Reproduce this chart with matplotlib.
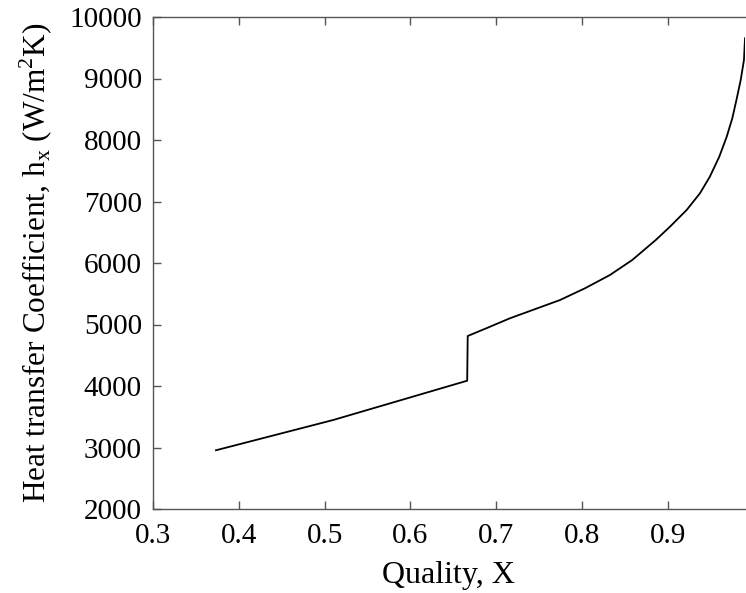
import matplotlib
matplotlib.use('Agg')
import matplotlib.pyplot as plt

plt.rcParams['font.family'] = ['Liberation Serif', 'DejaVu Serif']
plt.rcParams['mathtext.fontset'] = 'custom'
plt.rcParams['mathtext.rm'] = 'Liberation Serif'

# values
quality = [0.3734, 0.510, 0.6662, 0.6668, 0.687, 0.716, 0.7744, 0.8035,
           0.8326, 0.8586, 0.886, 0.9026, 0.922, 0.9375, 0.949, 0.960,
           0.9687, 0.9752, 0.980, 0.985, 0.9888, 0.990]
h_x = [2955, 3447, 4086, 4813, 4930, 5101, 5398, 5589,
       5805, 6049, 6374, 6591, 6862, 7133, 7403, 7728,
       8054, 8353, 8650, 8976, 9301, 9654]

x_ticks = [0.3, 0.4, 0.5, 0.6, 0.7, 0.8, 0.9]
y_ticks = [2000, 3000, 4000, 5000, 6000, 7000, 8000, 9000, 10000]

fig = plt.figure(figsize=(7.46, 5.93), dpi=100)
ax = fig.add_axes([153 / 746, 1 - 509 / 593, 592 / 746, 492 / 593])

ax.plot(quality, h_x, color='black', linewidth=1.3)

ax.set_xlim(0.3, 0.99)
ax.set_ylim(2000, 10000)
ax.set_xticks(x_ticks)
ax.set_yticks(y_ticks)

spine_color = '#555555'
for side in ['left', 'bottom', 'top']:
    ax.spines[side].set_color(spine_color)
    ax.spines[side].set_linewidth(1.0)
ax.spines['right'].set_visible(False)
ax.tick_params(direction='in', length=6, width=1.0, color=spine_color,
               labelsize=21, top=True, right=False)
ax.tick_params(axis='x', pad=10)
ax.tick_params(axis='y', pad=8)

ax.set_xlabel('Quality, X', fontsize=23, labelpad=9)
ax.set_ylabel(r'Heat transfer Coefficient, h$_\mathregular{x}$ (W/m$^\mathregular{2}$K)',
              fontsize=22.5, labelpad=10)

fig.savefig('out.png', dpi=100)
